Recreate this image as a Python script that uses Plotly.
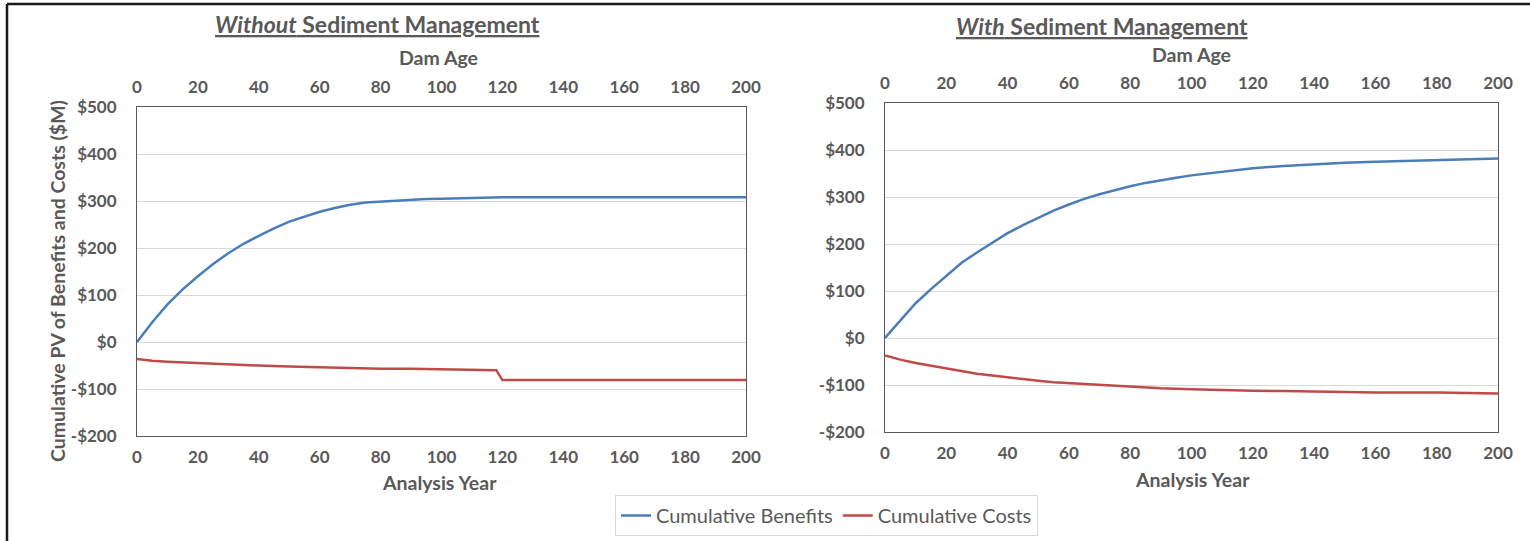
import plotly.graph_objects as go

# ---- data (PV in $M by analysis year) ----
years_wo_benefits = [0, 5, 10, 15, 20, 25, 30, 35, 40, 45, 50, 55, 60, 65, 70, 75, 80, 85, 90, 95, 100,
                     105, 110, 115, 120, 140, 160, 180, 200]
benefits_wo = [0, 42, 80, 112, 140, 166, 189, 209, 226, 242, 256, 267, 277, 285, 292, 297, 299, 301, 302,
               304, 305, 306, 307, 308, 308, 308, 308, 308, 308]

years_wo_costs = [0, 5, 10, 20, 30, 40, 50, 60, 70, 80, 90, 100, 110, 118, 120, 140, 160, 180, 200]
costs_wo = [-36, -40, -42, -45, -48, -50, -52, -54, -55, -57, -57, -58, -59, -60, -81, -81, -81, -81, -81]

years_w_benefits = [0, 5, 10, 15, 20, 25, 30, 35, 40, 45, 50, 55, 60, 65, 70, 75, 80, 85, 90, 95, 100,
                    110, 120, 130, 140, 150, 160, 170, 180, 190, 200]
benefits_w = [0, 38, 74, 104, 132, 160, 182, 203, 223, 240, 256, 271, 284, 296, 306, 315, 323, 330, 336,
              341, 346, 354, 361, 366, 370, 373, 375, 377, 379, 380, 382]

years_w_costs = [0, 5, 10, 15, 20, 25, 30, 35, 40, 45, 50, 55, 60, 65, 70, 80, 90, 100, 110, 120, 130,
                 140, 150, 160, 180, 190, 200]
costs_w = [-37, -46, -53, -59, -65, -71, -76, -80, -84, -88, -91, -94, -96, -98, -100, -104, -107, -109,
           -111, -112, -113, -114, -116, -116, -116, -117, -118]

x_ticks = [0, 20, 40, 60, 80, 100, 120, 140, 160, 180, 200]
y_ticks = [-200, -100, 0, 100, 200, 300, 400, 500]
y_tick_labels = ["-$200", "-$100", "$0", "$100", "$200", "$300", "$400", "$500"]

panel_titles = ["<b><u><i>Without</i> Sediment Management</u></b>",
                "<b><u><i>With</i> Sediment Management</u></b>"]

BLUE = "#4A7EBB"
RED = "#BE4B48"
TXT = "#595959"
GRID = "#D9D9D9"
FONT = "Lato"

W, H = 1530, 541

fig = go.Figure()

fig.add_trace(go.Scatter(x=years_wo_benefits, y=benefits_wo, mode="lines", name="Cumulative Benefits",
                         line=dict(color=BLUE, width=2.5), xaxis="x", yaxis="y"))
fig.add_trace(go.Scatter(x=years_wo_costs, y=costs_wo, mode="lines", name="Cumulative Costs",
                         line=dict(color=RED, width=2.5), xaxis="x", yaxis="y"))
fig.add_trace(go.Scatter(x=years_w_benefits, y=benefits_w, mode="lines", name="Cumulative Benefits",
                         line=dict(color=BLUE, width=2.5), xaxis="x2", yaxis="y2", showlegend=False))
fig.add_trace(go.Scatter(x=years_w_costs, y=costs_w, mode="lines", name="Cumulative Costs",
                         line=dict(color=RED, width=2.5), xaxis="x2", yaxis="y2", showlegend=False))


def px_x(p):
    return p / W


def px_y(p):
    return 1 - p / H


tick_font = dict(family=FONT, size=17, color=TXT, weight="bold")

common_x = dict(range=[0, 200], tickvals=x_ticks, showgrid=False, zeroline=False,
                showline=True, linecolor="#595959", linewidth=1, ticks="",
                tickfont=tick_font, ticklabelstandoff=6, automargin=False)
common_y = dict(range=[-200, 500], tickvals=y_ticks, ticktext=y_tick_labels, showgrid=True,
                gridcolor=GRID, gridwidth=1, zeroline=False, showline=True, mirror=True,
                linecolor="#595959", linewidth=1, ticks="", tickfont=tick_font, ticklabelstandoff=16,
                automargin=False)

dom_x1 = [px_x(137), px_x(746)]
dom_y1 = [px_y(436), px_y(107)]
dom_x2 = [px_x(885), px_x(1498)]
dom_y2 = [px_y(432), px_y(103)]

fig.update_layout(
    width=W, height=H, autosize=False,
    margin=dict(l=0, r=0, t=0, b=0, pad=0, autoexpand=False),
    paper_bgcolor="white", plot_bgcolor="white",
    font=dict(family=FONT, color=TXT),
    xaxis=dict(domain=dom_x1, anchor="y", side="bottom", **common_x),
    yaxis=dict(domain=dom_y1, anchor="x", **common_y),
    xaxis3=dict(overlaying="x", anchor="y", side="top", **common_x),
    xaxis2=dict(domain=dom_x2, anchor="y2", side="bottom", **common_x),
    yaxis2=dict(domain=dom_y2, anchor="x2", **common_y),
    xaxis4=dict(overlaying="x2", anchor="y2", side="top", **common_x),
    legend=dict(orientation="h", x=px_x(615), y=px_y(495), xanchor="left", yanchor="top",
                bordercolor=GRID, borderwidth=1, bgcolor="white",
                font=dict(family=FONT, size=20, color=TXT), itemwidth=30,
                tracegroupgap=0),
    showlegend=True,
)

# invisible traces so the top (Dam Age) axes are drawn
fig.add_trace(go.Scatter(x=years_wo_benefits, y=benefits_wo, mode="lines", line=dict(width=0),
                         opacity=0, xaxis="x3", yaxis="y", showlegend=False, hoverinfo="skip"))
fig.add_trace(go.Scatter(x=years_w_benefits, y=benefits_w, mode="lines", line=dict(width=0),
                         opacity=0, xaxis="x4", yaxis="y2", showlegend=False, hoverinfo="skip"))

annots = [
    dict(text=panel_titles[0], x=px_x(377), y=px_y(24), size=23),
    dict(text=panel_titles[1], x=px_x(1102), y=px_y(26), size=23),
    dict(text="<b>Dam Age</b>", x=px_x(438), y=px_y(57), size=19.5),
    dict(text="<b>Dam Age</b>", x=px_x(1191), y=px_y(54), size=19.5),
    dict(text="<b>Analysis Year</b>", x=px_x(440), y=px_y(482), size=19.5),
    dict(text="<b>Analysis Year</b>", x=px_x(1192), y=px_y(479), size=19.5),
    dict(text="<b>Cumulative PV of Benefits and Costs ($M)</b>", x=px_x(57), y=px_y(281),
         size=19.5, textangle=-90),
]
for a in annots:
    fig.add_annotation(xref="paper", yref="paper", xanchor="center", yanchor="middle",
                       showarrow=False, text=a["text"], x=a["x"], y=a["y"],
                       textangle=a.get("textangle", 0),
                       font=dict(family=FONT, color=TXT, size=a["size"]))

# outer frame: top and left edges
fig.add_shape(type="line", xref="paper", yref="paper", x0=px_x(7), x1=1, y0=px_y(4), y1=px_y(4),
              line=dict(color="#1a1a1a", width=2.5))
fig.add_shape(type="line", xref="paper", yref="paper", x0=px_x(7), x1=px_x(7), y0=0, y1=px_y(4),
              line=dict(color="#1a1a1a", width=2.5))

fig.write_html("out.html")
